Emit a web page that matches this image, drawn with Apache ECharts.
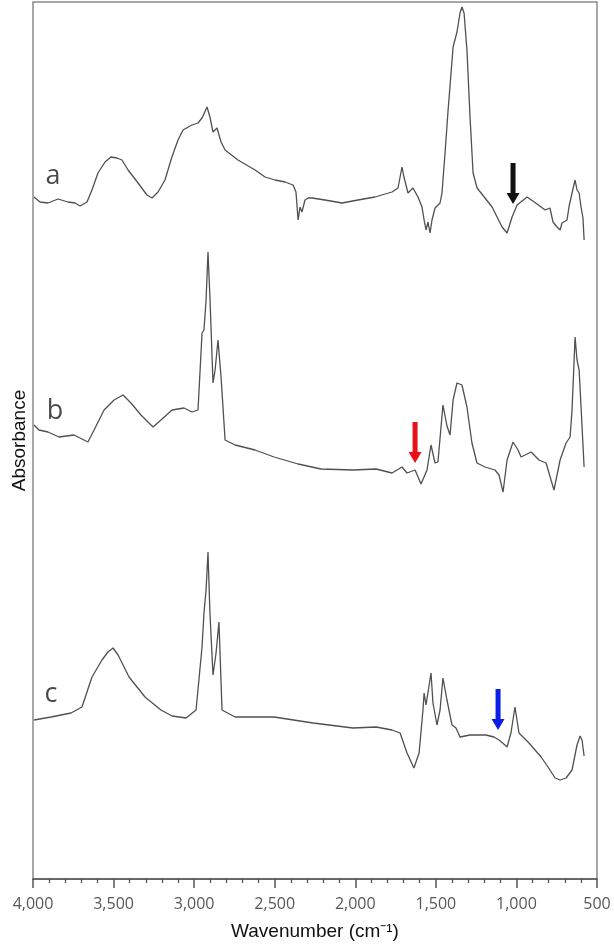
<!DOCTYPE html>
<html>
<head>
<meta charset="utf-8">
<script src="https://cdn.jsdelivr.net/npm/echarts@6/dist/echarts.min.js"></script>
<style>html,body{margin:0;padding:0;background:#fff;}#chart{width:614px;height:948px;}</style>
</head>
<body>
<div id="chart"></div>
<script>
// x ticks (wavenumber, cm-1)
const xTicks = [4000, 3500, 3000, 2500, 2000, 1500, 1000, 500];

// Trace a (offset absorbance, arbitrary units)
const aWave = [3994,3957,3907,3845,3783,3739,3708,3665,3634,3597,3553,3516,3479,3448,3410,3348,3293,3261,3224,3181,3138,3100,3069,3014,2976,2951,2920,2902,2883,2858,2846,2833,2808,2728,2622,2560,2498,2436,2386,2368,2355,2343,2331,2312,2293,2268,2188,2082,1983,1878,1772,1735,1710,1698,1673,1642,1611,1586,1573,1561,1549,1536,1524,1505,1474,1462,1443,1424,1393,1369,1350,1338,1325,1307,1288,1269,1244,1195,1151,1120,1089,1058,1027,996,934,872,822,792,773,748,729,717,686,674,655,636,624,611,599,587,580];
const aAbs  = [682,677,676,680,677,676,673,677,689,706,717,722,721,719,709,696,684,681,687,699,722,739,749,754,756,761,772,762,747,751,752,737,729,719,709,702,699,697,694,687,659,672,667,679,681,681,679,676,679,682,687,691,712,702,686,691,682,672,659,649,657,646,659,671,676,686,726,769,832,847,866,872,866,829,762,706,691,681,672,662,652,646,662,674,682,675,669,671,657,652,649,656,659,672,686,699,689,686,672,661,639];

// Trace b
const bWave = [3994,3963,3907,3839,3746,3659,3621,3559,3497,3441,3392,3330,3255,3206,3137,3063,3013,2976,2951,2939,2926,2914,2902,2883,2870,2852,2833,2808,2746,2622,2504,2355,2213,2014,1871,1772,1710,1679,1629,1592,1555,1530,1505,1487,1456,1431,1412,1393,1369,1338,1307,1276,1245,1195,1133,1108,1083,1058,1021,990,971,909,860,816,767,729,692,667,655,636,624,611,599,580];
const bAbs  = [454,449,447,442,444,437,449,469,479,484,476,464,452,459,469,471,467,469,546,549,579,627,582,496,509,539,502,439,434,429,422,415,410,409,410,406,412,406,409,395,409,434,416,417,474,453,444,479,496,494,472,436,416,412,409,404,387,419,437,429,422,427,419,416,389,419,436,442,469,542,519,509,472,412];

// Trace c
const cWave = [3994,3888,3764,3696,3634,3572,3535,3503,3472,3404,3305,3206,3137,3050,2988,2951,2939,2926,2914,2902,2883,2864,2846,2827,2746,2504,2262,2014,1871,1772,1722,1679,1636,1604,1580,1573,1561,1549,1530,1518,1493,1474,1456,1431,1400,1375,1350,1288,1189,1139,1108,1071,1058,1034,1009,984,922,847,804,760,729,692,655,624,605,593,580];
const cAbs  = [159,162,166,172,202,219,227,231,224,202,182,169,163,161,169,232,266,289,327,266,204,226,257,169,162,162,156,151,152,149,146,126,111,126,169,186,174,172,206,176,154,169,201,179,154,151,142,144,144,142,139,134,132,146,172,146,136,122,112,101,99,101,109,134,143,139,123];

// Trace labels
const labelNames = ['a', 'b', 'c'];
const labelWave  = [3876, 3863, 3888];
const labelAbs   = [703, 468, 185];

// Arrows (tip position)
const arrowWave = [1021, 1629, 1114];
const arrowAbs  = [675, 416, 149];
const arrowColors = ['#111111', '#e8101a', '#0a1ee6'];

const pairs = (xs, ys) => xs.map((x, i) => [x, ys[i]]);
const arrowPath = 'path://M4,0 L9,0 L9,30 L13,30 L6.5,41 L0,30 L4,30 Z';

const chart = echarts.init(document.getElementById('chart'), null, {renderer: 'canvas'});
const lineStyle = {color: '#505050', width: 1.3};

chart.setOption({
  animation: false,
  backgroundColor: '#ffffff',
  grid: {left: 33, right: 17, top: 2, bottom: 69, show: true, borderColor: '#8a8a8a', borderWidth: 1.5, backgroundColor: 'transparent'},
  xAxis: {
    type: 'value', min: 500, max: 4000, interval: 500, inverse: true,
    name: 'Wavenumber (cm\u207B\u00B9)', nameLocation: 'middle', nameGap: 43,
    nameTextStyle: {fontFamily: 'Liberation Sans, Arial, sans-serif', fontSize: 19, color: '#111'},
    axisLine: {show: true, onZero: false, lineStyle: {color: '#555', width: 1.5}},
    axisTick: {show: true, length: 9, lineStyle: {color: '#555', width: 1.5}},
    minorTick: {show: true, splitNumber: 5, length: 4, lineStyle: {color: '#555', width: 1.3}},
    splitLine: {show: false},
    axisLabel: {margin: 17, fontFamily: 'Open Sans, sans-serif', fontSize: 16, color: '#585858',
      formatter: v => xTicks.includes(v) ? v.toLocaleString('en-US') : ''}
  },
  yAxis: {
    type: 'value', min: 0, max: 877,
    name: 'Absorbance', nameLocation: 'middle', nameGap: 4,
    nameTextStyle: {fontFamily: 'Liberation Sans, Arial, sans-serif', fontSize: 19, color: '#111'},
    axisLine: {show: false}, axisTick: {show: false}, axisLabel: {show: false}, splitLine: {show: false}
  },
  series: [
    {type: 'line', data: pairs(aWave, aAbs), showSymbol: false, lineStyle: lineStyle, z: 3},
    {type: 'line', data: pairs(bWave, bAbs), showSymbol: false, lineStyle: lineStyle, z: 3},
    {type: 'line', data: pairs(cWave, cAbs), showSymbol: false, lineStyle: lineStyle, z: 3},
    {type: 'scatter', symbolSize: 0, z: 5,
      data: labelNames.map((n, i) => ({name: n, value: [labelWave[i], labelAbs[i]]})),
      label: {show: true, position: 'inside', formatter: p => p.name, fontFamily: 'Open Sans, sans-serif', fontSize: 27, color: '#1a1a1a'}},
    {type: 'scatter', symbol: arrowPath, symbolSize: [13, 41], symbolOffset: [0, '-50%'], symbolKeepAspect: false, z: 6,
      itemStyle: {opacity: 1},
      data: arrowWave.map((w, i) => ({value: [w, arrowAbs[i]], itemStyle: {color: arrowColors[i], opacity: 1}}))}
  ]
});
</script>
</body>
</html>
